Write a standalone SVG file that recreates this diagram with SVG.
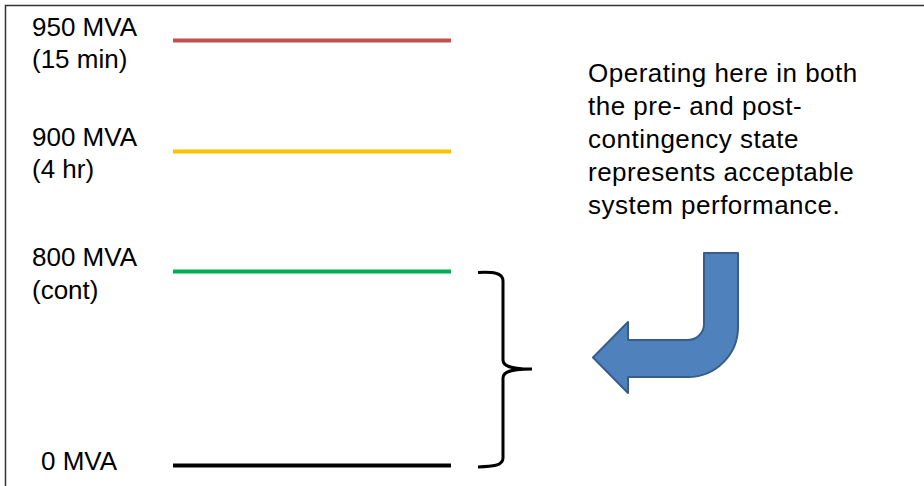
<svg xmlns="http://www.w3.org/2000/svg" width="924" height="486" viewBox="0 0 924 486">
  <style>
    .lbl { font-family: "Liberation Sans", Arial, sans-serif; font-size: 26px; fill: #000; }
    .note { font-size: 26px; letter-spacing: 0.5px; }
    .lvl { stroke-width: 4; fill: none; }
  </style>
  <rect x="0" y="0" width="924" height="486" fill="#fff"/>
  <g id="frame">
    <path d="M5.5,486 V5.5 H924" fill="none" stroke="#333" stroke-width="1.5"/>
  </g>
  <g id="level-950">
    <text class="lbl" x="32" y="36">950 MVA</text>
    <text class="lbl" x="32" y="68">(15 min)</text>
    <line class="lvl" x1="173" y1="40.5" x2="451" y2="40.5" stroke="#C0504D"/>
  </g>
  <g id="level-900">
    <text class="lbl" x="32" y="146">900 MVA</text>
    <text class="lbl" x="32" y="178">(4 hr)</text>
    <line class="lvl" x1="173" y1="151.5" x2="451" y2="151.5" stroke="#FFC000"/>
  </g>
  <g id="level-800">
    <text class="lbl" x="32" y="266">800 MVA</text>
    <text class="lbl" x="32" y="299">(cont)</text>
    <line class="lvl" x1="173" y1="271.5" x2="451" y2="271.5" stroke="#00B050"/>
  </g>
  <g id="level-0">
    <text class="lbl" x="41" y="470">0 MVA</text>
    <line class="lvl" x1="173" y1="465.5" x2="451" y2="465.5" stroke="#000"/>
  </g>
  <g id="note">
    <text class="lbl note" x="588" y="82">Operating here in both</text>
    <text class="lbl note" x="588" y="115">the pre- and post-</text>
    <text class="lbl note" x="588" y="148">contingency state</text>
    <text class="lbl note" x="588" y="181">represents acceptable</text>
    <text class="lbl note" x="588" y="214">system performance.</text>
  </g>
  <g id="connectors">
    <path id="brace" d="M478,272.5 C492,272 503,272 503,281 L503,360 C503,366 510,369 532,369 C510,369 503,372 503,378 L503,458 C503,466 492,466.5 478,467" fill="none" stroke="#000" stroke-width="3"/>
    <path id="arrow" d="M704,253 L738,253 L738,327 A50,50 0 0 1 688,377 L628,377 L628,393 L593,357.5 L628,322 L628,340 L688,340 A16,16 0 0 0 704,324 Z" fill="#4F81BD" stroke="#385D8A" stroke-width="2" stroke-linejoin="round"/>
  </g>
</svg>
